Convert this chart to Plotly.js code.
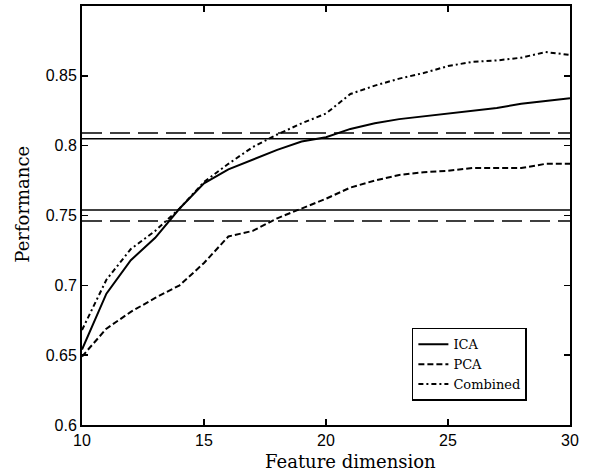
<!DOCTYPE html>
<html>
<head>
<meta charset="utf-8">
<script src="https://cdn.plot.ly/plotly-3.0.1.min.js"></script>
<style>
  html, body { margin: 0; padding: 0; background: #fff; }
  #chart { width: 590px; height: 476px; }
</style>
</head>
<body>
<div id="chart"></div>
<script>
// Feature dimensions evaluated
const dims = [10, 11, 12, 13, 14, 15, 16, 17, 18, 19, 20, 21, 22, 23, 24, 25, 26, 27, 28, 29, 30];

// Performance per feature dimension
const icaPerf = [0.654, 0.694, 0.718, 0.734, 0.755, 0.773, 0.783, 0.790, 0.797, 0.803, 0.806, 0.812, 0.816, 0.819, 0.821, 0.823, 0.825, 0.827, 0.830, 0.832, 0.834];
const pcaPerf = [0.649, 0.669, 0.681, 0.691, 0.700, 0.716, 0.735, 0.739, 0.748, 0.755, 0.762, 0.770, 0.775, 0.779, 0.781, 0.782, 0.784, 0.784, 0.784, 0.787, 0.787];
const combinedPerf = [0.668, 0.704, 0.726, 0.739, 0.755, 0.774, 0.787, 0.799, 0.808, 0.816, 0.823, 0.837, 0.843, 0.848, 0.852, 0.857, 0.860, 0.861, 0.863, 0.867, 0.865];

// Horizontal reference levels (solid = ICA style, dashed = PCA style)
const icaLevels = [0.805, 0.754];
const pcaLevels = [0.809, 0.746];

// Axis ticks
const xTicks = [10, 15, 20, 25, 30];
const yTicks = [0.6, 0.65, 0.7, 0.75, 0.8, 0.85];
const yTickText = ['0.6', '0.65', '0.7', '0.75', '0.8', '0.85'];

const serif = 'DejaVu Serif, serif';
const sans = 'Liberation Sans, Arial, sans-serif';
const xSpan = [dims[0], dims[dims.length - 1]];

const traces = [];

icaLevels.forEach(v => traces.push({
  x: xSpan, y: [v, v], mode: 'lines', showlegend: false, hoverinfo: 'skip',
  line: { color: '#000', width: 1.5, dash: 'solid' }
}));
pcaLevels.forEach(v => traces.push({
  x: xSpan, y: [v, v], mode: 'lines', showlegend: false, hoverinfo: 'skip',
  line: { color: '#000', width: 1.5, dash: '20px,8px' }
}));

traces.push({
  x: dims, y: icaPerf, name: 'ICA', mode: 'lines',
  line: { color: '#000', width: 2, dash: 'solid' }
});
traces.push({
  x: dims, y: pcaPerf, name: 'PCA', mode: 'lines',
  line: { color: '#000', width: 2, dash: '6px,3px' }
});
traces.push({
  x: dims, y: combinedPerf, name: 'Combined', mode: 'lines',
  line: { color: '#000', width: 2, dash: '5px,3px,2px,3px' }
});

const axisCommon = {
  showline: true, linecolor: '#000', linewidth: 2, mirror: 'allticks',
  ticks: 'inside', ticklen: 6, tickwidth: 1.5, tickcolor: '#000',
  showgrid: false, zeroline: false, fixedrange: true,
  tickfont: { family: sans, size: 16, color: '#000' }
};

const layout = {
  width: 590, height: 476,
  margin: { l: 82, r: 20, t: 6, b: 51 },
  paper_bgcolor: '#fff', plot_bgcolor: '#fff',
  font: { family: serif, color: '#000' },
  xaxis: Object.assign({}, axisCommon, {
    range: [10, 30], tickvals: xTicks, ticktext: xTicks.map(String)
  }),
  yaxis: Object.assign({}, axisCommon, {
    range: [0.6, 0.9], tickvals: yTicks, ticktext: yTickText
  }),
  legend: {
    x: 0.676, y: 0.232, xanchor: 'left', yanchor: 'top',
    bgcolor: '#fff', bordercolor: '#000', borderwidth: 1.5,
    font: { family: serif, size: 13, color: '#000' }
  },
  annotations: [
    { text: 'Feature dimension', xref: 'paper', yref: 'paper', x: 0.551, y: -0.087,
      xanchor: 'center', yanchor: 'middle', showarrow: false,
      font: { family: serif, size: 18, color: '#000' } },
    { text: 'Performance', xref: 'paper', yref: 'paper', x: -0.122, y: 0.527,
      xanchor: 'center', yanchor: 'middle', textangle: -90, showarrow: false,
      font: { family: serif, size: 18, color: '#000' } }
  ]
};

Plotly.newPlot('chart', traces, layout, { displayModeBar: false, staticPlot: true });
</script>
</body>
</html>
